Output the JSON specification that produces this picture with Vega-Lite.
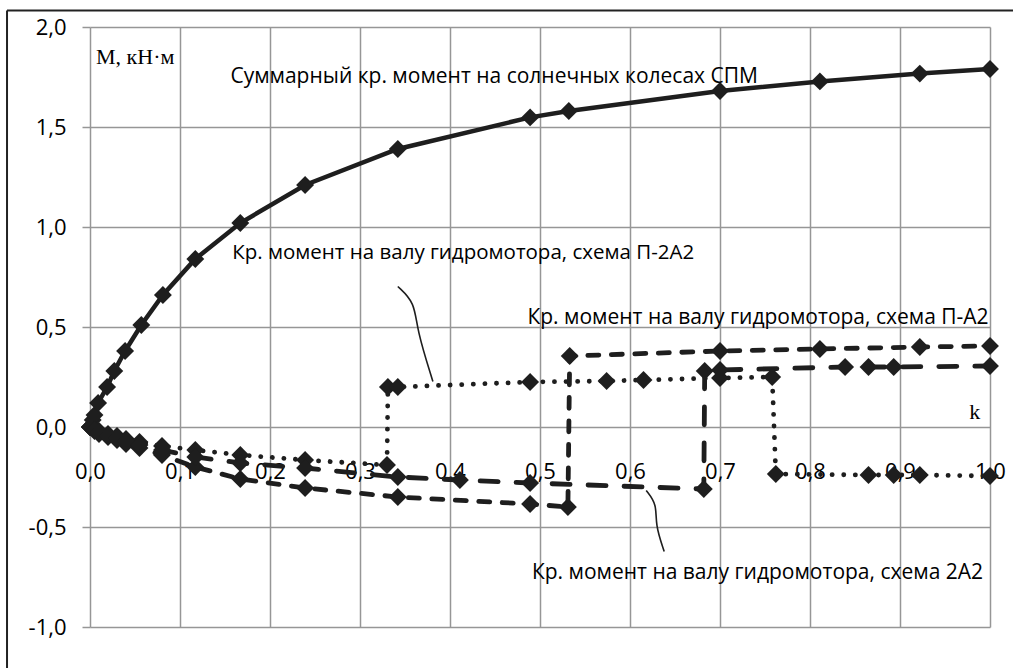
{
  "$schema": "https://vega.github.io/schema/vega-lite/v6.json",
  "width": 900,
  "height": 600,
  "autosize": {"type": "none"},
  "padding": {"left": 90, "top": 27, "right": 23, "bottom": 41},
  "background": "white",
  "config": {"view": {"stroke": null}, "font": "Open Sans"},
  "datasets": {
    "sum": [
      {"s": "Суммарный", "i": 0, "x": 0, "y": 0},
      {"s": "Суммарный", "i": 1, "x": 0.003, "y": 0.035},
      {"s": "Суммарный", "i": 2, "x": 0.005, "y": 0.06},
      {"s": "Суммарный", "i": 3, "x": 0.009, "y": 0.12},
      {"s": "Суммарный", "i": 4, "x": 0.019, "y": 0.2},
      {"s": "Суммарный", "i": 5, "x": 0.027, "y": 0.28},
      {"s": "Суммарный", "i": 6, "x": 0.039, "y": 0.38},
      {"s": "Суммарный", "i": 7, "x": 0.057, "y": 0.51},
      {"s": "Суммарный", "i": 8, "x": 0.081, "y": 0.66},
      {"s": "Суммарный", "i": 9, "x": 0.117, "y": 0.84},
      {"s": "Суммарный", "i": 10, "x": 0.167, "y": 1.02},
      {"s": "Суммарный", "i": 11, "x": 0.239, "y": 1.21},
      {"s": "Суммарный", "i": 12, "x": 0.342, "y": 1.39},
      {"s": "Суммарный", "i": 13, "x": 0.489, "y": 1.548},
      {"s": "Суммарный", "i": 14, "x": 0.532, "y": 1.58},
      {"s": "Суммарный", "i": 15, "x": 0.7, "y": 1.68},
      {"s": "Суммарный", "i": 16, "x": 0.811, "y": 1.728},
      {"s": "Суммарный", "i": 17, "x": 0.922, "y": 1.767},
      {"s": "Суммарный", "i": 18, "x": 1.0, "y": 1.79}
    ],
    "motors": [
      {"s": "П-2А2", "i": 0, "x": 0, "y": 0},
      {"s": "П-2А2", "i": 1, "x": 0.005, "y": -0.01},
      {"s": "П-2А2", "i": 2, "x": 0.01, "y": -0.02},
      {"s": "П-2А2", "i": 3, "x": 0.02, "y": -0.035},
      {"s": "П-2А2", "i": 4, "x": 0.03, "y": -0.045},
      {"s": "П-2А2", "i": 5, "x": 0.04, "y": -0.06},
      {"s": "П-2А2", "i": 6, "x": 0.055, "y": -0.075},
      {"s": "П-2А2", "i": 7, "x": 0.08, "y": -0.095},
      {"s": "П-2А2", "i": 8, "x": 0.117, "y": -0.115},
      {"s": "П-2А2", "i": 9, "x": 0.167, "y": -0.14},
      {"s": "П-2А2", "i": 10, "x": 0.239, "y": -0.165},
      {"s": "П-2А2", "i": 11, "x": 0.33, "y": -0.19},
      {"s": "П-2А2", "i": 12, "x": 0.331, "y": 0.2},
      {"s": "П-2А2", "i": 13, "x": 0.342, "y": 0.2},
      {"s": "П-2А2", "i": 14, "x": 0.489, "y": 0.225},
      {"s": "П-2А2", "i": 15, "x": 0.574, "y": 0.23},
      {"s": "П-2А2", "i": 16, "x": 0.615, "y": 0.235},
      {"s": "П-2А2", "i": 17, "x": 0.7, "y": 0.245},
      {"s": "П-2А2", "i": 18, "x": 0.758, "y": 0.25},
      {"s": "П-2А2", "i": 19, "x": 0.762, "y": -0.235},
      {"s": "П-2А2", "i": 20, "x": 0.865, "y": -0.24},
      {"s": "П-2А2", "i": 21, "x": 0.893, "y": -0.24},
      {"s": "П-2А2", "i": 22, "x": 0.922, "y": -0.24},
      {"s": "П-2А2", "i": 23, "x": 1.0, "y": -0.245},
      {"s": "П-А2", "i": 0, "x": 0, "y": 0},
      {"s": "П-А2", "i": 1, "x": 0.005, "y": -0.02},
      {"s": "П-А2", "i": 2, "x": 0.01, "y": -0.035},
      {"s": "П-А2", "i": 3, "x": 0.02, "y": -0.05},
      {"s": "П-А2", "i": 4, "x": 0.03, "y": -0.065},
      {"s": "П-А2", "i": 5, "x": 0.04, "y": -0.085},
      {"s": "П-А2", "i": 6, "x": 0.055, "y": -0.105},
      {"s": "П-А2", "i": 7, "x": 0.08, "y": -0.14},
      {"s": "П-А2", "i": 8, "x": 0.117, "y": -0.2},
      {"s": "П-А2", "i": 9, "x": 0.167, "y": -0.26},
      {"s": "П-А2", "i": 10, "x": 0.239, "y": -0.305},
      {"s": "П-А2", "i": 11, "x": 0.342, "y": -0.35},
      {"s": "П-А2", "i": 12, "x": 0.489, "y": -0.385},
      {"s": "П-А2", "i": 13, "x": 0.531, "y": -0.4},
      {"s": "П-А2", "i": 14, "x": 0.533, "y": 0.355},
      {"s": "П-А2", "i": 15, "x": 0.7, "y": 0.38},
      {"s": "П-А2", "i": 16, "x": 0.811, "y": 0.39},
      {"s": "П-А2", "i": 17, "x": 0.922, "y": 0.4},
      {"s": "П-А2", "i": 18, "x": 1.0, "y": 0.405},
      {"s": "2А2", "i": 0, "x": 0, "y": 0},
      {"s": "2А2", "i": 1, "x": 0.005, "y": -0.015},
      {"s": "2А2", "i": 2, "x": 0.01, "y": -0.025},
      {"s": "2А2", "i": 3, "x": 0.02, "y": -0.045},
      {"s": "2А2", "i": 4, "x": 0.03, "y": -0.055},
      {"s": "2А2", "i": 5, "x": 0.04, "y": -0.07},
      {"s": "2А2", "i": 6, "x": 0.055, "y": -0.09},
      {"s": "2А2", "i": 7, "x": 0.08, "y": -0.115},
      {"s": "2А2", "i": 8, "x": 0.117, "y": -0.15},
      {"s": "2А2", "i": 9, "x": 0.167, "y": -0.18},
      {"s": "2А2", "i": 10, "x": 0.239, "y": -0.205},
      {"s": "2А2", "i": 11, "x": 0.342, "y": -0.25},
      {"s": "2А2", "i": 12, "x": 0.411, "y": -0.265},
      {"s": "2А2", "i": 13, "x": 0.489, "y": -0.28},
      {"s": "2А2", "i": 14, "x": 0.682, "y": -0.31},
      {"s": "2А2", "i": 15, "x": 0.683, "y": 0.28},
      {"s": "2А2", "i": 16, "x": 0.7, "y": 0.285},
      {"s": "2А2", "i": 17, "x": 0.839, "y": 0.3},
      {"s": "2А2", "i": 18, "x": 0.865, "y": 0.3},
      {"s": "2А2", "i": 19, "x": 0.893, "y": 0.3},
      {"s": "2А2", "i": 20, "x": 1.0, "y": 0.305}
    ],
    "leaders": [
      {"g": "a", "i": 0, "x": 0.342, "y": 0.7025},
      {"g": "a", "i": 1, "x": 0.361, "y": 0.6225},
      {"g": "a", "i": 2, "x": 0.363, "y": 0.4875},
      {"g": "a", "i": 3, "x": 0.381, "y": 0.2275},
      {"g": "b", "i": 0, "x": 0.618, "y": -0.3175},
      {"g": "b", "i": 1, "x": 0.63, "y": -0.3875},
      {"g": "b", "i": 2, "x": 0.628, "y": -0.4875},
      {"g": "b", "i": 3, "x": 0.638, "y": -0.6225}
    ],
    "one": [{}]
  },
  "layer": [
    {
      "data": {"name": "sum"},
      "mark": {"type": "line", "color": "#1e1e1e", "strokeWidth": 4.5},
      "encoding": {
        "x": {
          "field": "x", "type": "quantitative", "title": null,
          "scale": {"domain": [0, 1], "nice": false, "zero": false},
          "axis": {
            "values": [0, 0.1, 0.2, 0.3, 0.4, 0.5, 0.6, 0.7, 0.8, 0.9, 1.0],
            "labelExpr": "(datum.value < 0 ? '-' : '') + replace(format(abs(datum.value), '.1f'), '.', ',')",
            "offset": -200,
            "domain": false,
            "ticks": false,
            "tickSize": 0,
            "labelPadding": 34,
            "labelFontSize": 22,
            "labelColor": "#000000",
            "labelFont": "Open Sans",
            "grid": true,
            "gridColor": "#969696",
            "gridWidth": 1.5,
            "labelFlush": false,
            "labelOverlap": false
          }
        },
        "y": {
          "field": "y", "type": "quantitative", "title": null,
          "scale": {"domain": [-1, 2], "nice": false, "zero": false},
          "axis": {
            "values": [-1, -0.5, 0, 0.5, 1, 1.5, 2],
            "labelExpr": "(datum.value < 0 ? '-' : '') + replace(format(abs(datum.value), '.1f'), '.', ',')",
            "domain": false,
            "ticks": true,
            "tickSize": 8,
            "tickColor": "#969696",
            "tickWidth": 1.5,
            "labelPadding": 16,
            "labelFontSize": 22,
            "labelColor": "#000000",
            "labelFont": "Open Sans",
            "grid": true,
            "gridColor": "#969696",
            "gridWidth": 1.5,
            "labelFlush": false,
            "labelOverlap": false
          }
        },
        "order": {"field": "i"}
      }
    },
    {
      "data": {"name": "one"},
      "mark": {"type": "rule", "color": "#222222", "strokeWidth": 2},
      "encoding": {
        "x": {"datum": -0.0922, "type": "quantitative", "title": null},
        "y": {"datum": 2.0825, "type": "quantitative", "title": null},
        "y2": {"datum": -1.25}
      }
    },
    {
      "data": {"name": "one"},
      "mark": {"type": "rule", "color": "#222222", "strokeWidth": 2},
      "encoding": {
        "x": {"datum": -0.0922, "type": "quantitative", "title": null},
        "x2": {"datum": 1.04},
        "y": {"datum": 2.0825, "type": "quantitative", "title": null}
      }
    },
    {
      "data": {"name": "leaders"},
      "mark": {"type": "line", "color": "#1e1e1e", "strokeWidth": 1.6, "interpolate": "basis"},
      "encoding": {
        "x": {"field": "x", "type": "quantitative", "title": null},
        "y": {"field": "y", "type": "quantitative", "title": null},
        "detail": {"field": "g"},
        "order": {"field": "i"}
      }
    },
    {
      "data": {"name": "motors"},
      "mark": {"type": "line", "color": "#1e1e1e", "strokeWidth": 4.8, "strokeCap": "round"},
      "encoding": {
        "x": {"field": "x", "type": "quantitative", "title": null},
        "y": {"field": "y", "type": "quantitative", "title": null},
        "strokeDash": {
          "field": "s", "type": "nominal", "legend": null,
          "scale": {"domain": ["П-2А2", "П-А2", "2А2"], "range": [[0.1, 11.5], [11, 12.5], [18, 18]]}
        },
        "order": {"field": "i"}
      }
    },
    {
      "data": {"name": "sum"},
      "mark": {"type": "point", "shape": "diamond", "filled": true, "size": 320, "color": "#1e1e1e", "opacity": 1},
      "encoding": {
        "x": {"field": "x", "type": "quantitative", "title": null},
        "y": {"field": "y", "type": "quantitative", "title": null}
      }
    },
    {
      "data": {"name": "motors"},
      "mark": {"type": "point", "shape": "diamond", "filled": true, "size": 320, "color": "#1e1e1e", "opacity": 1},
      "encoding": {
        "x": {"field": "x", "type": "quantitative", "title": null},
        "y": {"field": "y", "type": "quantitative", "title": null}
      }
    },
    {
      "data": {"name": "one"},
      "mark": {"type": "text", "align": "left", "baseline": "middle", "font": "Liberation Serif", "fontSize": 22, "color": "#000000"},
      "encoding": {
        "x": {"datum": 0.0067, "type": "quantitative", "title": null},
        "y": {"datum": 1.85, "type": "quantitative", "title": null},
        "text": {"value": "M, кН·м"}
      }
    },
    {
      "data": {"name": "one"},
      "mark": {"type": "text", "align": "center", "baseline": "middle", "font": "Liberation Serif", "fontSize": 22, "color": "#000000"},
      "encoding": {
        "x": {"datum": 0.983, "type": "quantitative", "title": null},
        "y": {"datum": 0.0775, "type": "quantitative", "title": null},
        "text": {"value": "k"}
      }
    },
    {
      "data": {"name": "one"},
      "mark": {"type": "text", "align": "left", "baseline": "middle", "font": "Open Sans", "fontSize": 21, "color": "#000000"},
      "encoding": {
        "x": {"datum": 0.156, "type": "quantitative", "title": null},
        "y": {"datum": 1.7525, "type": "quantitative", "title": null},
        "text": {"value": "Суммарный кр. момент на солнечных колесах СПМ"}
      }
    },
    {
      "data": {"name": "one"},
      "mark": {"type": "text", "align": "left", "baseline": "middle", "font": "Open Sans", "fontSize": 20.5, "color": "#000000"},
      "encoding": {
        "x": {"datum": 0.158, "type": "quantitative", "title": null},
        "y": {"datum": 0.8725, "type": "quantitative", "title": null},
        "text": {"value": "Кр. момент на валу гидромотора, схема П-2А2"}
      }
    },
    {
      "data": {"name": "one"},
      "mark": {"type": "text", "align": "left", "baseline": "middle", "font": "Open Sans", "fontSize": 21, "color": "#000000"},
      "encoding": {
        "x": {"datum": 0.486, "type": "quantitative", "title": null},
        "y": {"datum": 0.5475, "type": "quantitative", "title": null},
        "text": {"value": "Кр. момент на валу гидромотора, схема П-А2"}
      }
    },
    {
      "data": {"name": "one"},
      "mark": {"type": "text", "align": "left", "baseline": "middle", "font": "Open Sans", "fontSize": 21, "color": "#000000"},
      "encoding": {
        "x": {"datum": 0.491, "type": "quantitative", "title": null},
        "y": {"datum": -0.7275, "type": "quantitative", "title": null},
        "text": {"value": "Кр. момент на валу гидромотора, схема 2А2"}
      }
    }
  ]
}
